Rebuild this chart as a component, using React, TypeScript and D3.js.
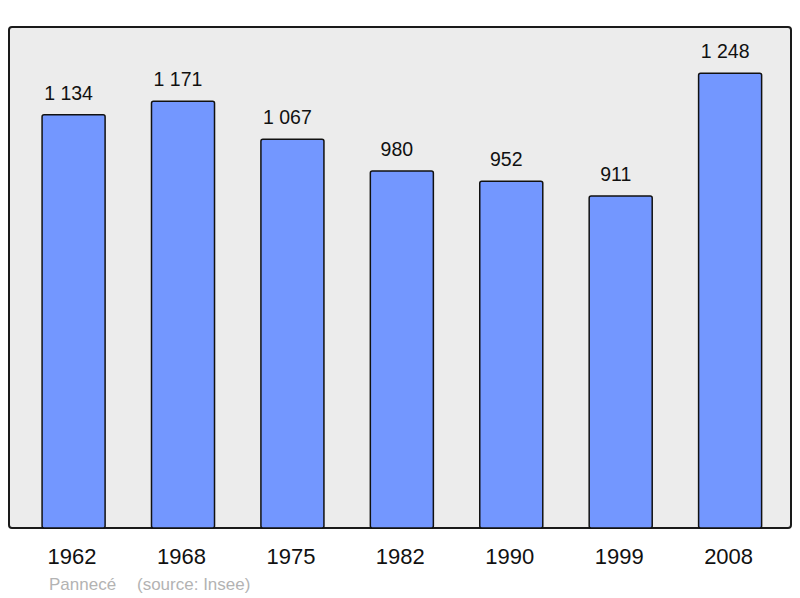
import React from 'react';
import * as d3 from 'd3';

const WIDTH = 800;
const HEIGHT = 598;

const years = ['1962', '1968', '1975', '1982', '1990', '1999', '2008'];
const population = [1134, 1171, 1067, 980, 952, 911, 1248];
const valueLabels = ['1 134', '1 171', '1 067', '980', '952', '911', '1 248'];

const frame = {left: 9, top: 27, right: 791, bottom: 528};

const App = () => {
    const xScale = d3.scaleBand<string>()
        .domain(years)
        .range([11, 792.7])
        .paddingInner(0.424)
        .paddingOuter(0.284);

    const yScale = d3.scaleLinear()
        .domain([0, 1375])
        .range([frame.bottom, frame.top]);

    return (
        <svg width={WIDTH} height={HEIGHT}
             style={{position: 'absolute', top: 0, left: 0, fontFamily: '"Liberation Sans", Arial, sans-serif'}}>
            <rect x={frame.left} y={frame.top}
                  width={frame.right - frame.left} height={frame.bottom - frame.top}
                  rx={3} fill="#ececec" stroke="#1a1a1a" strokeWidth={2}/>

            {years.map((year, i) => {
                const x = xScale(year) ?? 0;
                const y = yScale(population[i]);
                const cx = x + xScale.bandwidth() / 2;
                return (
                    <g key={year}>
                        <rect x={x} y={y} width={xScale.bandwidth()} height={frame.bottom - y}
                              rx={2} fill="#7397ff" stroke="#111" strokeWidth={1.5}/>
                        <text x={cx - 5} y={y - 15} textAnchor="middle" fontSize={19.5} fill="#111">
                            {valueLabels[i]}
                        </text>
                        <text x={cx - 1.5} y={564} textAnchor="middle" fontSize={22} fill="#111">
                            {year}
                        </text>
                    </g>
                );
            })}

            <text x={49} y={590} fontSize={17} fill="#b3b3b3">Pannecé</text>
            <text x={137} y={590} fontSize={17} fill="#b3b3b3">(source: Insee)</text>
        </svg>
    );
};

export default App;
